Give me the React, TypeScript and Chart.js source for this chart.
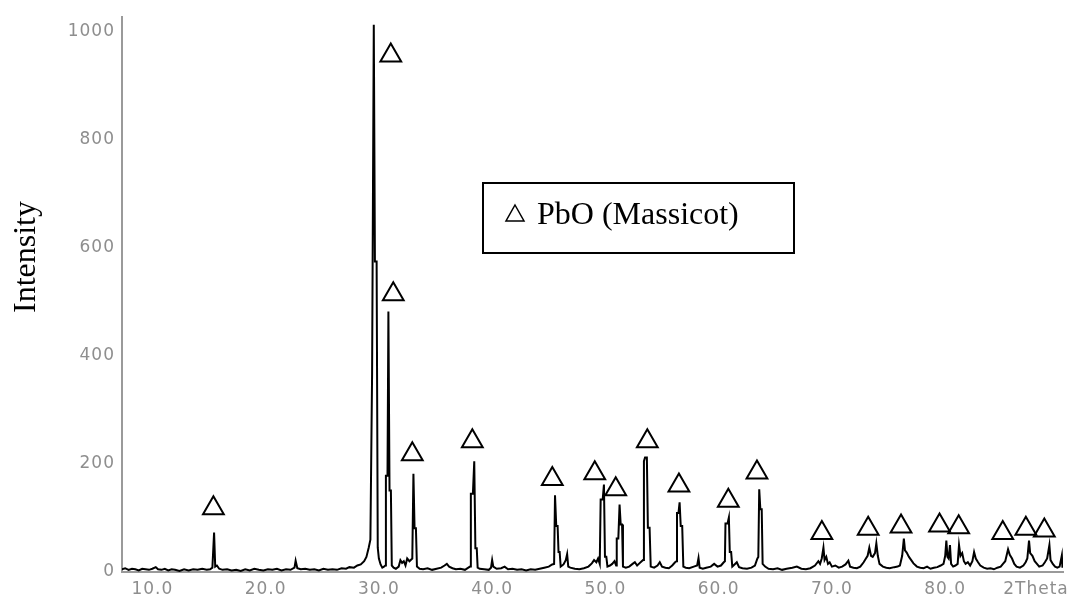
import React, { useEffect, useRef } from "react";
import { Chart, registerables } from "chart.js";

Chart.register(...registerables);

// Diffraction pattern: 2θ (degrees) and measured intensity (counts)
const twoTheta = [
  7.3, 7.6, 7.9, 8.2, 8.5, 8.8, 9.1, 9.4, 9.7, 10.0, 10.3, 10.5, 10.8, 11.1, 11.4, 11.7, 12.0, 12.4, 12.8, 13.2,
  13.6, 14.0, 14.4, 14.8, 15.1, 15.3, 15.45, 15.55, 15.7, 15.9, 16.2, 16.6, 17.0, 17.4, 17.8, 18.2, 18.6, 19.0, 19.4, 19.8,
  20.2, 20.6, 21.0, 21.4, 21.8, 22.2, 22.55, 22.65, 22.8, 23.1, 23.5, 23.9, 24.3, 24.7, 25.1, 25.5, 25.9, 26.3, 26.7, 27.1,
  27.4, 27.8, 28.1, 28.4, 28.7, 28.9, 29.1, 29.25, 29.4, 29.55, 29.65, 29.8, 29.9, 30.0, 30.15, 30.3, 30.45, 30.58, 30.62, 30.76,
  30.84, 30.94, 31.06, 31.14, 31.3, 31.5, 31.75, 31.9, 32.05, 32.2, 32.35, 32.5, 32.7, 32.95, 33.05, 33.15, 33.27, 33.36, 33.6, 33.9,
  34.3, 34.7, 35.1, 35.5, 35.8, 36.0, 36.2, 36.5, 36.8, 37.2, 37.6, 37.9, 38.05, 38.12, 38.3, 38.42, 38.52, 38.64, 38.72, 38.9,
  39.3, 39.7, 39.9, 40.0, 40.1, 40.4, 40.8, 41.1, 41.4, 41.8, 42.2, 42.6, 43.0, 43.4, 43.8, 44.2, 44.6, 45.0, 45.3, 45.47,
  45.55, 45.66, 45.78, 45.86, 45.96, 46.05, 46.3, 46.5, 46.62, 46.72, 46.9, 47.3, 47.7, 48.1, 48.5, 48.8, 49.0, 49.2, 49.35, 49.5,
  49.58, 49.76, 49.87, 49.96, 50.08, 50.18, 50.4, 50.6, 50.8, 50.95, 51.0, 51.14, 51.25, 51.35, 51.47, 51.55, 51.8, 52.1, 52.4, 52.6,
  52.8, 53.0, 53.2, 53.32, 53.4, 53.5, 53.66, 53.75, 53.9, 54.0, 54.3, 54.6, 54.8, 55.0, 55.3, 55.6, 55.9, 56.15, 56.28, 56.32,
  56.45, 56.55, 56.65, 56.78, 56.88, 57.1, 57.4, 57.8, 58.1, 58.22, 58.32, 58.6, 58.9, 59.3, 59.6, 59.9, 60.2, 60.45, 60.55, 60.6,
  60.78, 60.9, 60.98, 61.1, 61.2, 61.4, 61.6, 61.8, 62.1, 62.5, 62.9, 63.2, 63.42, 63.5, 63.58, 63.68, 63.8, 63.88, 64.1, 64.4,
  64.8, 65.2, 65.6, 66.0, 66.5, 66.9, 67.3, 67.7, 68.1, 68.5, 68.8, 68.95, 69.1, 69.25, 69.35, 69.5, 69.65, 69.8, 70.0, 70.3,
  70.6, 70.9, 71.2, 71.45, 71.6, 71.9, 72.2, 72.5, 72.8, 73.0, 73.15, 73.3, 73.45, 73.6, 73.8, 73.92, 74.05, 74.2, 74.5, 74.8,
  75.1, 75.5, 75.8, 76.0, 76.2, 76.35, 76.45, 76.6, 76.8, 77.0, 77.2, 77.5, 77.8, 78.1, 78.4, 78.7, 79.0, 79.3, 79.6, 79.85,
  80.0, 80.1, 80.2, 80.3, 80.42, 80.52, 80.7, 80.9, 81.1, 81.22, 81.35, 81.5, 81.65, 81.8, 82.0, 82.2, 82.4, 82.55, 82.7, 82.9,
  83.1, 83.4, 83.7, 84.0, 84.3, 84.6, 84.9, 85.1, 85.3, 85.55, 85.7, 85.9, 86.1, 86.3, 86.6, 86.9, 87.1, 87.25, 87.4, 87.5,
  87.7, 87.9, 88.1, 88.3, 88.6, 88.8, 89.0, 89.2, 89.3, 89.5, 89.7, 89.9, 90.1, 90.3, 90.35,
];

const intensity = [
  5, 7, 4, 6, 5, 3, 6, 5, 4, 6, 9, 5, 4, 6, 3, 5, 4, 2, 5, 3,
  5, 4, 6, 4, 5, 8, 73, 10, 12, 6, 4, 5, 3, 4, 2, 5, 3, 6, 4, 3,
  5, 4, 6, 3, 5, 4, 8, 21, 7, 5, 6, 4, 5, 3, 6, 4, 5, 4, 7, 6,
  9, 8, 12, 14, 20, 28, 45, 60, 366, 1013, 575, 575, 45, 25, 14, 8, 10, 12, 178, 178,
  482, 151, 151, 12, 8, 6, 10, 22, 17, 20, 12, 25, 20, 25, 182, 81, 81, 10, 6, 5,
  7, 4, 6, 8, 12, 15, 10, 7, 5, 6, 4, 8, 10, 145, 145, 205, 44, 44, 8, 6,
  5, 4, 8, 22, 10, 6, 7, 10, 5, 6, 4, 5, 3, 5, 4, 6, 8, 10, 14, 15,
  142, 85, 85, 37, 37, 10, 14, 22, 33, 10, 8, 6, 5, 7, 10, 16, 22, 18, 25, 15,
  134, 134, 162, 28, 28, 10, 12, 15, 20, 12, 62, 62, 125, 88, 88, 10, 8, 10, 15, 18,
  12, 16, 20, 22, 205, 212, 212, 82, 82, 10, 8, 12, 18, 10, 8, 7, 12, 18, 20, 109,
  109, 129, 85, 85, 10, 8, 7, 10, 12, 26, 8, 6, 8, 10, 15, 10, 12, 18, 20, 90,
  90, 101, 37, 37, 10, 14, 18, 9, 7, 6, 8, 12, 25, 28, 153, 116, 116, 15, 10, 6,
  5, 7, 4, 6, 8, 10, 6, 5, 7, 12, 20, 15, 25, 45, 22, 28, 15, 18, 10, 12,
  8, 10, 14, 21, 10, 8, 7, 10, 18, 25, 30, 45, 30, 28, 35, 53, 30, 15, 10, 8,
  7, 9, 10, 12, 30, 62, 40, 36, 28, 22, 16, 10, 8, 7, 10, 6, 8, 9, 12, 15,
  30, 58, 28, 25, 50, 15, 10, 12, 15, 50, 30, 35, 20, 15, 18, 12, 20, 37, 25, 18,
  12, 8, 6, 7, 5, 8, 10, 15, 20, 42, 32, 25, 15, 10, 8, 12, 18, 25, 58, 35,
  30, 20, 15, 10, 12, 18, 25, 50, 22, 15, 10, 8, 10, 31, 8,
];

// PbO (massicot) reflections: marker positions above the peaks
const markerTheta = [
  15.39, 31.05, 31.27, 32.95, 38.25, 45.31, 49.06, 50.91, 53.7, 56.49,
  60.85, 63.38, 69.11, 73.2, 76.1, 79.5, 81.19, 85.08, 87.12, 88.75,
];
const markerLevel = [
  118, 956, 514, 218, 242, 172, 183, 153, 242, 160,
  132, 184, 72, 80, 84, 86, 83, 72, 80, 77,
];

const xTickValues = [10, 20, 30, 40, 50, 60, 70, 80];
const yTickValues = [0, 200, 400, 600, 800, 1000];
const xUnitLabel = "2Theta";
const yTitle = "Intensity";
const phaseName = "PbO (Massicot)";

const TICK_GRAY = "#8e8e8e";
const AXIS_GRAY = "#9a9a9a";
const TICK_FONT_SIZE = 17;
const TICK_FAMILY = "'DejaVu Sans', sans-serif";
const SERIF = "'Liberation Serif', 'Times New Roman', serif";
const X_TICK_PAD = 7;

const decorations = {
  id: "xrdDecorations",
  beforeDraw(chart: any) {
    const { ctx, width, height } = chart;
    ctx.save();
    ctx.fillStyle = "#ffffff";
    ctx.fillRect(0, 0, width, height);
    ctx.restore();
    (ctx as any).letterSpacing = "1px";
  },
  afterDraw(chart: any) {
    const { ctx } = chart;
    const xScale = chart.scales.x;

    // unit label at the right end of the 2θ axis
    ctx.save();
    ctx.fillStyle = TICK_GRAY;
    ctx.font = `${TICK_FONT_SIZE}px ${TICK_FAMILY}`;
    ctx.textAlign = "center";
    ctx.textBaseline = "middle";
    ctx.fillText(xUnitLabel, 1036, xScale.top + X_TICK_PAD + (TICK_FONT_SIZE * 1.2) / 2);
    ctx.restore();
    (ctx as any).letterSpacing = "0px";

    // vertical axis title
    ctx.save();
    ctx.fillStyle = "#000";
    ctx.font = `32px ${SERIF}`;
    ctx.translate(35, 257);
    ctx.rotate(-Math.PI / 2);
    ctx.textAlign = "center";
    ctx.textBaseline = "alphabetic";
    ctx.fillText(yTitle, 0, 0);
    ctx.restore();

    // phase key box
    ctx.save();
    ctx.strokeStyle = "#000";
    ctx.lineWidth = 2;
    ctx.strokeRect(483, 183, 311, 70);
    ctx.lineWidth = 1.5;
    ctx.beginPath();
    ctx.moveTo(515, 205);
    ctx.lineTo(524, 221);
    ctx.lineTo(506, 221);
    ctx.closePath();
    ctx.stroke();
    ctx.fillStyle = "#000";
    ctx.font = `32px ${SERIF}`;
    ctx.textAlign = "left";
    ctx.textBaseline = "alphabetic";
    ctx.fillText(phaseName, 537, 224);
    ctx.restore();
  },
};

export default function App() {
  const canvasRef = useRef<HTMLCanvasElement | null>(null);

  useEffect(() => {
    if (!canvasRef.current) return;
    const pattern = twoTheta.map((t, i) => ({ x: t, y: intensity[i] }));
    const markers = markerTheta.map((t, i) => ({ x: t, y: markerLevel[i] }));

    const chart = new Chart(canvasRef.current, {
      type: "scatter",
      data: {
        datasets: [
          {
            label: "pattern",
            data: pattern,
            showLine: true,
            borderColor: "#000",
            borderWidth: 2,
            pointRadius: 0,
            tension: 0,
            fill: false,
          },
          {
            label: phaseName,
            data: markers,
            showLine: false,
            pointStyle: "triangle",
            pointRadius: 12,
            borderColor: "#000",
            borderWidth: 2,
            backgroundColor: "rgba(0,0,0,0)",
            clip: false,
          },
        ],
      },
      options: {
        responsive: false,
        animation: false,
        events: [],
        layout: { padding: { top: 14, right: 2, left: 0, bottom: 0 } },
        plugins: {
          legend: { display: false },
          tooltip: { enabled: false },
          title: { display: false },
        },
        scales: {
          x: {
            type: "linear",
            min: 7.32,
            max: 90.4,
            grid: { display: false, drawTicks: false },
            border: { display: true, color: AXIS_GRAY, width: 2 },
            afterBuildTicks: (scale: any) => {
              scale.ticks = xTickValues.map((v) => ({ value: v }));
            },
            afterFit: (scale: any) => {
              scale.height = 27;
            },
            ticks: {
              color: TICK_GRAY,
              padding: X_TICK_PAD,
              maxRotation: 0,
              autoSkip: false,
              font: { family: TICK_FAMILY, size: TICK_FONT_SIZE },
              callback: (v: any) => Number(v).toFixed(1),
            },
          },
          y: {
            type: "linear",
            min: 0,
            max: 1027,
            grid: { display: false, drawTicks: false },
            border: { display: true, color: AXIS_GRAY, width: 2 },
            afterBuildTicks: (scale: any) => {
              scale.ticks = yTickValues.map((v) => ({ value: v }));
            },
            afterFit: (scale: any) => {
              scale.width = 122;
            },
            ticks: {
              color: TICK_GRAY,
              padding: 7,
              autoSkip: false,
              font: { family: TICK_FAMILY, size: TICK_FONT_SIZE },
              callback: (v: any) => String(v),
            },
          },
        },
      },
      plugins: [decorations],
    });

    return () => chart.destroy();
  }, []);

  return (
    <div style={{ position: "absolute", left: 0, top: 0, width: 1077, height: 599, background: "#fff" }}>
      <canvas ref={canvasRef} width={1077} height={599} />
    </div>
  );
}
